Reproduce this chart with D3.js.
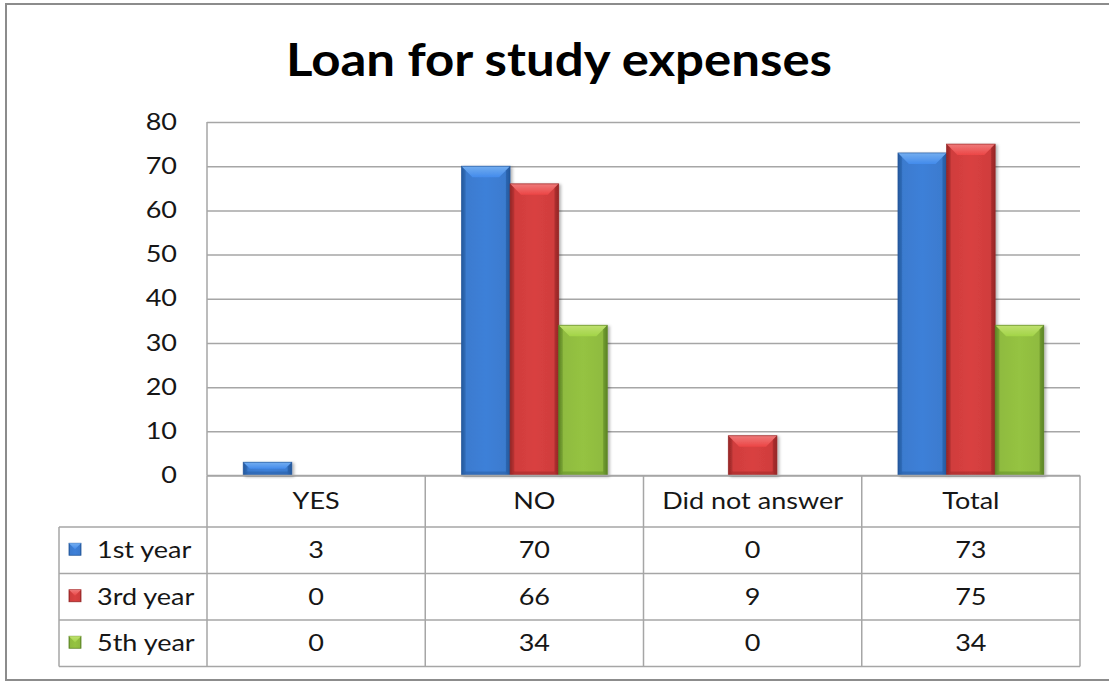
<!DOCTYPE html>
<html>
<head>
<meta charset="utf-8">
<script src="https://cdn.jsdelivr.net/npm/d3@7/dist/d3.min.js"></script>
<style>
  html, body { margin: 0; padding: 0; background: #fff; }
  svg { display: block; }
</style>
</head>
<body>
<svg id="chart" width="1109" height="681"></svg>
<script>
// Survey answers per study year
const categories = ["YES", "NO", "Did not answer", "Total"];
const seriesNames = ["1st year", "3rd year", "5th year"];
const firstYear = [3, 70, 0, 73];
const thirdYear = [0, 66, 9, 75];
const fifthYear = [0, 34, 0, 34];
const yTicks = [0, 10, 20, 30, 40, 50, 60, 70, 80];
const titleText = "Loan for study expenses";

const seriesValues = [firstYear, thirdYear, fifthYear];
const palette = [
  { base: "#3b7bcf", light: "#74aef0", dark: "#24589c" },
  { base: "#d03d3d", light: "#ee7a7a", dark: "#962626" },
  { base: "#8fbb3f", light: "#bfe070", dark: "#5c8526" }
];

const W = 1109, H = 681;
const plot = { left: 207, right: 1080, top: 122, bottom: 475.5 };
const rowH = [51.5, 46.5, 46.5, 46.5];
const legendLeft = 59;
const gridColor = "#a6a6a6";
const font = "Lato, 'Open Sans', sans-serif";
const labelSize = 22.5;
const widen = 1.2;   // labels are set a little wider than the face's natural advance
const textColor = "#161616";

const svg = d3.select("#chart");
const defs = svg.append("defs");

function stretch(sel, factor) {
  sel.each(function () {
    const len = this.getComputedTextLength();
    d3.select(this).attr("textLength", len * factor).attr("lengthAdjust", "spacingAndGlyphs");
  });
}

// Shading gradients for the bevelled bars and legend keys
palette.forEach((c, i) => {
  const g = defs.append("linearGradient").attr("id", "body" + i)
    .attr("x1", 0).attr("x2", 1).attr("y1", 0).attr("y2", 0);
  [[0, c.dark], [0.1, c.base], [0.5, d3.color(c.base).brighter(0.12)], [0.9, c.base], [1, c.dark]]
    .forEach(([o, col]) => g.append("stop").attr("offset", o).attr("stop-color", col));
  const t = defs.append("linearGradient").attr("id", "top" + i)
    .attr("x1", 0).attr("x2", 0).attr("y1", 0).attr("y2", 1);
  [[0, c.light], [1, d3.color(c.base).brighter(0.35)]]
    .forEach(([o, col]) => t.append("stop").attr("offset", o).attr("stop-color", col));
});
const shadow = defs.append("filter").attr("id", "shadow")
  .attr("x", "-20%").attr("y", "-20%").attr("width", "150%").attr("height", "140%");
shadow.append("feDropShadow").attr("dx", 2).attr("dy", 1).attr("stdDeviation", 1.5)
  .attr("flood-color", "#000").attr("flood-opacity", 0.3);

// Outer frame
svg.append("rect").attr("x", 6).attr("y", 4).attr("width", W + 10).attr("height", 676)
  .attr("fill", "#fff").attr("stroke", "#8c8c8c").attr("stroke-width", 2);

// Title
svg.append("text").attr("x", 559).attr("y", 76).attr("text-anchor", "middle")
  .attr("font-family", font).attr("font-weight", "bold").attr("font-size", 45)
  .attr("fill", "#000").text(titleText)
  .attr("textLength", 546).attr("lengthAdjust", "spacingAndGlyphs");

// Scales
const y = d3.scaleLinear().domain([0, 80]).range([plot.bottom, plot.top]);
const x0 = d3.scaleBand().domain(categories).range([plot.left, plot.right]);
const x1 = d3.scaleBand().domain(seriesNames).range([0, x0.bandwidth()])
  .paddingInner(0).paddingOuter(0.745);

// Gridlines and value axis
const yAxis = d3.axisLeft(y).tickValues(yTicks).tickSize(-(plot.right - plot.left)).tickPadding(30);
const ga = svg.append("g").attr("transform", `translate(${plot.left},0)`).call(yAxis);
ga.select(".domain").remove();
ga.selectAll(".tick line").attr("stroke", gridColor).attr("stroke-width", 1.5);
ga.selectAll(".tick text").attr("font-family", font).attr("font-size", labelSize)
  .attr("fill", textColor).attr("x", -30).call(stretch, widen);
svg.append("line").attr("x1", plot.left).attr("x2", plot.left)
  .attr("y1", plot.top).attr("y2", plot.bottom)
  .attr("stroke", gridColor).attr("stroke-width", 1.5);

// Bevelled bar
function bevelBar(g, x, yTop, w, h, i) {
  if (h <= 0) return;
  const c = palette[i];
  const b = Math.min(11, h / 2, w / 4);
  const s = Math.min(4, w / 8);
  const bar = g.append("g").attr("filter", "url(#shadow)");
  bar.append("rect").attr("x", x).attr("y", yTop).attr("width", w).attr("height", h)
    .attr("fill", `url(#body${i})`);
  // top bevel
  bar.append("polygon")
    .attr("points", [[x, yTop], [x + w, yTop], [x + w - b, yTop + b], [x + b, yTop + b]].join(" "))
    .attr("fill", `url(#top${i})`);
  // bottom bevel
  const bb = Math.min(4, h / 3);
  bar.append("polygon")
    .attr("points", [[x, yTop + h], [x + w, yTop + h], [x + w - bb, yTop + h - bb], [x + bb, yTop + h - bb]].join(" "))
    .attr("fill", c.dark).attr("opacity", 0.45);
  // side edges
  bar.append("polygon")
    .attr("points", [[x + w, yTop], [x + w, yTop + h], [x + w - s, yTop + h - s], [x + w - s, yTop + Math.min(b, s)]].join(" "))
    .attr("fill", c.dark).attr("opacity", 0.5);
  bar.append("polygon")
    .attr("points", [[x, yTop], [x, yTop + h], [x + s, yTop + h - s], [x + s, yTop + Math.min(b, s)]].join(" "))
    .attr("fill", c.dark).attr("opacity", 0.3);
  bar.append("rect").attr("x", x).attr("y", yTop).attr("width", w).attr("height", h)
    .attr("fill", "none").attr("stroke", c.dark).attr("stroke-width", 0.8).attr("opacity", 0.8);
}

const barsG = svg.append("g");
seriesNames.forEach((name, i) => {
  categories.forEach((cat, j) => {
    const v = seriesValues[i][j];
    const xPos = x0(cat) + x1(name);
    bevelBar(barsG, xPos, y(v), x1.bandwidth(), y(0) - y(v), i);
  });
});

// Data table
const rowTops = [plot.bottom];
rowH.forEach((h, k) => rowTops.push(rowTops[k] + h));
const tableBottom = rowTops[rowTops.length - 1];
const tg = svg.append("g");
const lineAttr = sel => sel.attr("stroke", gridColor).attr("stroke-width", 1.5);

// horizontal rules
rowTops.forEach((ty, k) => {
  tg.append("line").attr("x1", k === 0 ? plot.left : legendLeft).attr("x2", plot.right)
    .attr("y1", ty).attr("y2", ty).call(lineAttr);
});
// vertical rules
const colEdges = categories.map(c => x0(c)).concat([plot.right]);
colEdges.forEach(cx => {
  tg.append("line").attr("x1", cx).attr("x2", cx).attr("y1", plot.bottom).attr("y2", tableBottom).call(lineAttr);
});
tg.append("line").attr("x1", legendLeft).attr("x2", legendLeft)
  .attr("y1", rowTops[1]).attr("y2", tableBottom).call(lineAttr);

function label(x, y, txt, anchor) {
  return tg.append("text").attr("x", x).attr("y", y).attr("dy", "0.36em")
    .attr("text-anchor", anchor).attr("font-family", font).attr("font-size", labelSize)
    .attr("fill", textColor).text(txt).call(stretch, widen);
}

// header labels
categories.forEach(cat => {
  label(x0(cat) + x0.bandwidth() / 2, (rowTops[0] + rowTops[1]) / 2, cat, "middle");
});

// series rows with legend keys
seriesNames.forEach((name, i) => {
  const cy = (rowTops[i + 1] + rowTops[i + 2]) / 2;
  const key = tg.append("g");
  const k = 12, kx = 69, ky = cy - k / 2 - 1;
  key.append("rect").attr("x", kx).attr("y", ky).attr("width", k).attr("height", k)
    .attr("fill", `url(#body${i})`).attr("stroke", palette[i].dark).attr("stroke-width", 0.8);
  key.append("polygon")
    .attr("points", [[kx, ky], [kx + k, ky], [kx + k / 2, ky + k / 2]].join(" "))
    .attr("fill", `url(#top${i})`);
  label(97, cy, name, "start");
  categories.forEach((cat, j) => {
    label(x0(cat) + x0.bandwidth() / 2, cy, seriesValues[i][j], "middle");
  });
});
</script>
</body>
</html>
